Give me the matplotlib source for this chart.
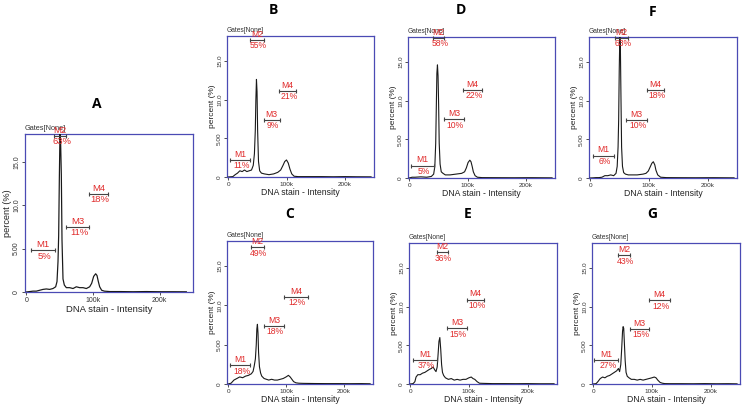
import matplotlib.pyplot as plt

plt.rcParams['font.family'] = ['Liberation Sans', 'DejaVu Sans']

# histogram traces, x in k (DNA stain intensity), y in percent
a_x = [0, 5, 10, 15, 20, 25, 30, 35, 40, 44, 46, 47.5, 48.5, 49.5, 50.5, 51.5, 52.5, 53.5, 55, 57, 60, 65, 70, 75,
       80, 85, 90, 95, 98, 101, 104, 106, 108, 110, 113, 117, 125, 140, 160, 180, 200, 220, 240]
a_y = [0, 0.05, 0.1, 0.1, 0.2, 0.3, 0.35, 0.3, 0.4, 0.6, 1.2, 3.5, 6.5, 13.0, 18.4, 17.0, 13.5, 6.0, 1.5, 0.8, 0.5,
       0.5, 0.4, 0.6, 0.5, 0.5, 0.4, 0.6, 1.0, 1.8, 2.1, 1.9, 1.2, 0.6, 0.2, 0.1, 0.05, 0.05, 0.03, 0.05, 0.03, 0.03, 0.02]

b_x = [0, 8, 12, 16, 20, 24, 28, 32, 36, 40, 43, 45, 46.5, 47.5, 48.5, 49.5, 50.5, 52, 54, 57, 62, 70, 78, 85, 90,
       94, 97, 100, 103, 106, 109, 113, 120, 140, 160, 180, 200, 220, 245]
b_y = [0, 0.05, 0.3, 0.5, 0.8, 0.7, 0.9, 0.7, 0.8, 0.9, 1.5, 3.0, 6.0, 10.0, 12.6, 11.0, 6.0, 2.0, 0.8, 0.5, 0.4,
       0.3, 0.4, 0.6, 0.9, 1.5, 2.0, 2.2, 1.8, 1.0, 0.4, 0.1, 0.05, 0.05, 0.05, 0.03, 0.05, 0.03, 0.02]

c_x = [0, 5, 10, 15, 20, 25, 30, 35, 40, 43, 45, 47, 48.5, 49.5, 50.5, 51.5, 52.5, 54, 56, 58, 62, 66, 70, 75, 80,
       85, 90, 95, 100, 104, 107, 110, 113, 117, 122, 130, 150, 170, 190, 210, 230, 245]
c_y = [0, 0.1, 0.5, 0.7, 0.9, 0.8, 1.0, 1.1, 1.3, 1.6, 2.3, 3.2, 5.0, 7.0, 7.6, 6.5, 4.0, 2.2, 1.4, 1.0, 0.7, 0.6,
       0.5, 0.6, 0.5, 0.5, 0.6, 0.7, 0.9, 1.1, 0.9, 0.6, 0.3, 0.15, 0.1, 0.08, 0.06, 0.05, 0.05, 0.04, 0.05, 0.03]

d_x = [0, 5, 10, 20, 30, 38, 42, 44, 45.5, 46.5, 47.5, 48.5, 49.5, 50.5, 51.5, 53, 55, 58, 62, 70, 80, 90, 95, 98,
       101, 104, 106, 108, 110, 113, 117, 125, 150, 180, 210, 245]
d_y = [0, 0.1, 0.1, 0.15, 0.1, 0.2, 0.5, 1.5, 4.5, 9.0, 13.5, 14.6, 13.2, 9.5, 4.5, 1.8, 0.8, 0.6, 0.4, 0.4, 0.5,
       0.6, 0.8, 1.3, 2.0, 2.3, 2.1, 1.5, 0.8, 0.3, 0.1, 0.05, 0.04, 0.03, 0.04, 0.02]

e_x = [0, 5, 8, 10, 13, 17, 21, 25, 29, 33, 36, 39, 42, 44, 46, 47.5, 49, 50.5, 52, 53.5, 55, 57, 60, 65, 70, 75,
       80, 85, 90, 95, 100, 104, 107, 110, 114, 118, 125, 140, 160, 180, 200, 220, 245]
e_y = [0, 0.05, 0.3, 0.9, 1.2, 1.2, 1.4, 1.5, 1.7, 1.9, 2.0, 2.2, 1.8, 1.6, 2.2, 3.8, 5.5, 6.0, 4.5, 2.5, 1.5, 1.1,
       0.8, 0.6, 0.7, 0.5, 0.6, 0.5, 0.6, 0.6, 0.8, 0.9, 0.7, 0.6, 0.3, 0.1, 0.08, 0.05, 0.05, 0.04, 0.05, 0.03, 0.03]

f_x = [0, 5, 10, 15, 20, 25, 30, 35, 40, 44, 46, 47.5, 48.5, 49.5, 50.5, 51.5, 52.5, 53.5, 55, 57, 60, 65, 70, 80,
       90, 95, 99, 102, 105, 107.5, 110, 112, 115, 120, 130, 150, 180, 210, 245]
f_y = [0, 0.02, 0.05, 0.05, 0.1, 0.3, 0.3, 0.4, 0.3, 0.6, 1.5, 4.0, 7.5, 14.0, 18.4, 16.5, 10.0, 4.0, 1.5, 0.7, 0.5,
       0.4, 0.4, 0.4, 0.5, 0.6, 0.9, 1.4, 1.9, 2.1, 1.7, 1.0, 0.4, 0.1, 0.05, 0.04, 0.03, 0.04, 0.02]

g_x = [0, 5, 8, 12, 16, 20, 24, 28, 32, 36, 40, 43, 45, 47, 48.5, 50, 51, 52, 53, 54.5, 56, 58, 61, 65, 70, 75, 80,
       85, 90, 95, 100, 104, 107, 110, 114, 118, 122, 130, 150, 170, 190, 210, 230, 245]
g_y = [0, 0.05, 0.3, 0.7, 0.9, 0.8, 1.0, 1.1, 1.3, 1.5, 1.7, 2.0, 1.6, 2.5, 4.5, 6.8, 7.4, 7.2, 5.5, 3.0, 1.5, 1.0,
       0.8, 0.6, 0.6, 0.5, 0.6, 0.5, 0.6, 0.7, 0.8, 0.9, 0.8, 0.5, 0.2, 0.1, 0.05, 0.04, 0.04, 0.03, 0.05, 0.03,
       0.04, 0.02]

# gate markers: (start k, end k, level %) for M1..M4, and their percentages
a_gates = [(7, 43, 4.8), (42, 60, 18.0), (60, 94, 7.5), (94, 122, 11.3)]
b_gates = [(3, 38, 2.2), (38, 61, 17.7), (61, 88, 7.4), (87, 116, 11.1)]
c_gates = [(3, 38, 2.4), (39, 61, 17.4), (61, 97, 7.4), (97, 137, 11.1)]
d_gates = [(3, 42, 1.6), (41, 60, 18.1), (59, 94, 7.6), (93, 124, 11.4)]
e_gates = [(5, 45, 3.1), (45, 64, 17.0), (63, 96, 7.2), (96, 126, 10.9)]
f_gates = [(5, 41, 2.9), (42, 64, 18.1), (61, 97, 7.5), (96, 126, 11.4)]
g_gates = [(2, 43, 3.1), (43, 63, 16.6), (63, 95, 7.1), (95, 130, 10.8)]

a_pct = ['5%', '63%', '11%', '18%']
b_pct = ['11%', '55%', '9%', '21%']
c_pct = ['18%', '49%', '18%', '12%']
d_pct = ['5%', '58%', '10%', '22%']
e_pct = ['37%', '36%', '15%', '10%']
f_pct = ['6%', '63%', '10%', '18%']
g_pct = ['27%', '43%', '15%', '12%']

gate_names = ['M1', 'M2', 'M3', 'M4']

W, H = 742, 408
BLUE = '#4a4ab4'
RED = '#e02a2a'


def px_axes(fig, left, top, right, bottom):
    return fig.add_axes([left / W, (H - bottom) / H, (right - left) / W, (bottom - top) / H])


def draw_panel(fig, ax, xs, ys, gates, pcts, letter, lpos, big=False):
    s = 1.1 if big else 1.0
    ax.plot(xs, ys, color='#1a1a1a', lw=0.8 * s, zorder=3)
    ax.set_xlim(-2, 250)
    ax.set_ylim(0, 18.2)
    ax.set_xticks([0, 100, 200])
    ax.set_xticklabels(['0', '100k', '200k'])
    ax.set_yticks([0, 5, 10, 15])
    ax.set_yticklabels(['0', '5.00', '10.0', '15.0'], rotation=90, va='center')
    ax.tick_params(labelsize=4.6 * s, length=2, width=0.6, pad=1.5, colors='#333333')
    for sp in ax.spines.values():
        sp.set_color(BLUE)
        sp.set_linewidth(0.9)
    ax.set_xlabel('DNA stain - Intensity', fontsize=6.2 * s, labelpad=1, color='#222222')
    ax.set_ylabel('percent (%)', fontsize=6.0 * s, labelpad=1, color='#222222')
    ax.text(0.0, 1.015, 'Gates[None]', transform=ax.transAxes, fontsize=4.8 * s,
            color='#333333', va='bottom', ha='left')
    fig.text(lpos[0] / W, 1 - lpos[1] / H, letter, fontsize=10, fontweight='bold',
             ha='center', va='center', family='Open Sans')
    for (x0, x1, y), name, pct in zip(gates, gate_names, pcts):
        ax.plot([x0, x1], [y, y], color='#444444', lw=0.8, marker='|', ms=3, mew=0.8,
                zorder=4, clip_on=False)
        xm = (x0 + x1) / 2
        ax.annotate(name, (xm, y), xytext=(0, 0.8), textcoords='offset points', ha='center',
                    va='bottom', fontsize=6.2 * s, color=RED, annotation_clip=False, zorder=5)
        ax.annotate(pct, (xm, y), xytext=(1, -1), textcoords='offset points', ha='center',
                    va='top', fontsize=6.2 * s, color=RED, annotation_clip=False, zorder=5)


fig = plt.figure(figsize=(W / 100, H / 100), dpi=100)

draw_panel(fig, px_axes(fig, 25, 134, 193, 292), a_x, a_y, a_gates, a_pct, 'A', (97, 104), big=True)
draw_panel(fig, px_axes(fig, 227, 36, 374, 177), b_x, b_y, b_gates, b_pct, 'B', (273, 10))
draw_panel(fig, px_axes(fig, 408, 37, 555, 178), d_x, d_y, d_gates, d_pct, 'D', (461, 10))
draw_panel(fig, px_axes(fig, 589, 37, 737, 178), f_x, f_y, f_gates, f_pct, 'F', (653, 12))
draw_panel(fig, px_axes(fig, 227, 241, 373, 384), c_x, c_y, c_gates, c_pct, 'C', (290, 214))
draw_panel(fig, px_axes(fig, 409, 243, 557, 384), e_x, e_y, e_gates, e_pct, 'E', (468, 214))
draw_panel(fig, px_axes(fig, 592, 243, 740, 384), g_x, g_y, g_gates, g_pct, 'G', (652, 214))

fig.savefig('out.png', dpi=100)
